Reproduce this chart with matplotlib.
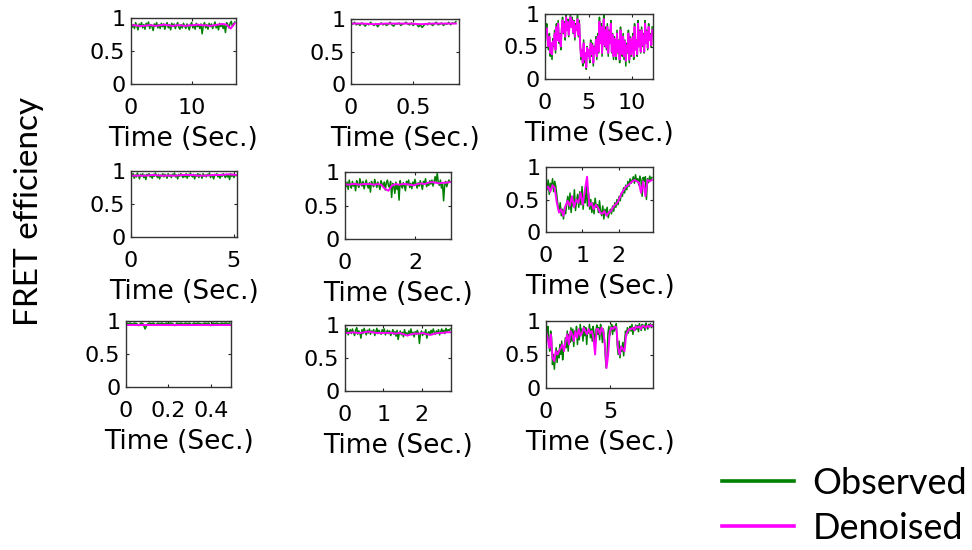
import numpy as np
import matplotlib
matplotlib.use("Agg")
import matplotlib.pyplot as plt
from matplotlib.lines import Line2D

# ---------------- data (values in percent FRET efficiency) ----------------
obs_00 = [92,86,90,84,93,88,82,91,87,93,85,90,83,92,88,94,84,90,87,81,91,88,93,85,90,84,92,87,91,83,
          89,93,85,90,82,92,87,91,84,89,93,86,83,90,85,92,88,84,91,87,82,90,93,85,89,83,92,87,90,84,
          91,76,89,93,85,90,83,92,87,91,84,89,94,85,90,82,92,87,91,84,89,78,93,90,85,92,95,87,91,94]
den_00 = [89,89,88,88,89,89,88,89,90,89,88,89,89,88,89,89,90,89,89,88,89,90,91,90,84,92]
dur_00 = 17.1

obs_01 = [94,92,95,91,93,90,94,92,89,93,91,95,92,90,93,88,92,94,91,93,90,92,95,91,89,93,92,94,90,92,
          93,95,92,91,94,90,93,92,88,91,87,90,93,91,94,92,90,93,95,91,92,94,90,93,92,95,91,94,93,96]
den_01 = [93,93,92,93,93,93,92,93,93,93]
dur_01 = 0.84

obs_02 = [80,72,85,60,45,70,35,55,30,62,
          50,75,40,85,60,90,55,70,45,80,
          95,70,88,60,98,75,92,65,85,100,
          80,95,70,90,60,85,75,98,65,90,
          55,30,45,20,60,25,40,15,50,35,
          45,25,60,35,55,20,50,40,65,30,
          70,40,95,55,85,35,75,100,50,80,
          45,85,35,75,55,90,40,70,30,65,
          50,30,75,40,60,25,80,45,35,70,
          30,60,20,55,40,75,25,65,35,50,
          70,30,85,45,60,35,90,50,75,40,
          80,50,70,40,90,55,75,45,85,60,70,50,80]
den_02 = [75,70,78,60,50,65,40,55,38,58,
          52,70,45,80,60,85,58,68,50,75,
          90,72,85,65,95,75,88,68,82,95,
          80,90,72,88,65,82,75,92,68,85,
          55,35,45,25,55,30,40,18,48,35,
          45,30,55,38,52,25,48,40,60,35,
          65,42,88,55,80,40,72,92,52,75,
          48,80,40,72,55,85,42,68,35,62,
          52,35,70,42,58,30,75,45,38,65,
          35,58,28,52,42,70,30,62,38,52,
          65,35,80,45,58,38,85,50,72,42,
          75,52,68,42,85,55,72,48,80,60,68,52,75]
dur_02 = 12.3

obs_10 = [95,92,96,89,94,91,97,93,88,95,92,96,90,94,87,95,93,96,91,94,89,95,92,97,93,90,95,88,94,92,
          96,91,95,93,89,96,92,94,90,95,93,97,91,94,88,95,92,96,93,90,94,91,96,89,95,92,97,93,91,95,
          88,94,92,96,90,95,93,89,96,92,94,91,95,93,97,90,94,92,88,95,93,96,91,94,89,95,92,96,93,90,
          95,91,94,87,96,92,95,90,94,93]
den_10 = [93,93,93,94,93,93,93,94,94,93,93,94,94,95,94]
dur_10 = 5.1

obs_11 = [82,78,85,74,88,80,76,86,79,83,72,87,81,77,90,84,79,86,75,82,88,80,76,84,70,86,81,78,89,83,
          77,85,80,74,87,82,79,85,73,84,88,80,77,86,62,83,79,68,85,74,81,58,87,80,76,84,79,72,86,81,
          88,77,83,75,85,80,89,82,76,84,79,87,81,74,86,83,90,78,84,80,87,82,88,79,85,93,86,98,84,80,
          88,76,83,57,80,86,78,84,88,85]
den_11 = [82,81,82,82,81,82,82,82,81,82,81,75,72,80,82,81,82,82,81,80,82,83,82,84,85,84,83,84,84,85]
dur_11 = 3.0

obs_12 = [72,65,80,58,75,68,82,62,78,70,
          55,40,30,45,25,35,20,38,28,45,
          55,35,60,30,50,40,65,33,48,58,
          38,62,42,70,35,55,45,72,40,60,
          35,50,30,45,28,52,38,42,30,48,
          32,25,40,20,35,28,38,22,30,35,
          28,40,32,45,38,50,42,55,48,60,
          55,68,60,72,65,78,70,82,75,80,
          85,75,88,78,82,72,86,80,55,84,
          78,85,50,82,76,86,80,84]
den_12 = [65,70,62,72,68, 45,30,35,25,40, 48,40,55,38,50, 45,60,42,65,85,
          40,45,35,42,38, 30,28,32,25,30, 32,38,42,45,52, 60,65,70,72,75,
          78,80,78,76,60, 78,55,80,78,80]
dur_12 = 2.92

obs_20 = [97,96,97,95,97,96,93,97,96,88,95,97,96,97,94,97,96,97,95,97,96,97,96,93,97,96,97,95,97,96,
          97,94,97,96,97,96,95,97,96,97,93,97,96,97,95,97,96,97,96,97]
den_20 = [94,94,94,94,94,94,94,94]
dur_20 = 0.49

obs_21 = [92,88,95,85,90,93,87,94,89,84,92,96,86,91,88,80,93,87,95,90,85,92,88,94,86,91,89,93,84,90,
          95,87,92,88,86,93,90,94,85,89,92,87,91,84,88,93,86,90,83,92,78,87,91,85,89,82,93,86,88,84,
          91,87,94,85,89,82,90,86,92,88,72,87,91,84,89,86,93,80,88,90,85,92,87,94,89,86,91,88,93,85,
          90,94,88,92,87,95,90,93,91,94]
den_21 = [88,88,89,88,88,89,90,89,88,88,88,88,88,87,88,86,84,86,87,87,88,86,85,87,88,88,89,89]
dur_21 = 2.75

obs_22 = [88,80,92,70,55,85,75, 35,50,28,45,60,38,55, 45,65,50,70,42,58,62, 75,60,85,55,80,68,90,
          70,88,62,85,78,92,65, 85,72,95,80,88,70,92, 78,90,65,86,82,95,75, 88,70,92,80,58,86,94,
          80,90,72,95,85,68,88, 75,50,30,45,82,92,78, 88,95,80,92,85,90,96, 65,50,70,45,62,55,68,
          48,70,85,78,90,82,88, 92,85,95,80,90,86,94, 88,93,84,96,90,86,95,
          90,94,86,97,91,88,95,92,96,90,94]
den_22 = [85,75,60,80, 45,40,55,50, 55,60,65,55, 70,80,65,85, 80,70,85,75, 88,78,82,90,
          85,80,88,82, 85,75,50,88, 88,80,90,85, 65,30,50,85, 90,88,92,90, 60,50,62,58,
          55,80,85,88, 88,90,86,92, 90,92,88,93, 92,90,93,91,94,92]
dur_22 = 8.25

xmax = [17.3, 0.865, 12.4, 5.15, 3.03, 2.95, 0.495, 2.77, 8.3]
xticks = [[0, 10], [0, 0.5], [0, 5, 10], [0, 5], [0, 2], [0, 1, 2], [0, 0.2, 0.4], [0, 1, 2], [0, 5]]
xticklabels = [['0', '10'], ['0', '0.5'], ['0', '5', '10'], ['0', '5'], ['0', '2'],
               ['0', '1', '2'], ['0', '0.2', '0.4'], ['0', '1', '2'], ['0', '5']]
yticks = [0, 0.5, 1]
yticklabels = ['0', '0.5', '1']
legend_labels = ['Observed', 'Denoised']

observed = [obs_00, obs_01, obs_02, obs_10, obs_11, obs_12, obs_20, obs_21, obs_22]
denoised = [den_00, den_01, den_02, den_10, den_11, den_12, den_20, den_21, den_22]
durations = [dur_00, dur_01, dur_02, dur_10, dur_11, dur_12, dur_20, dur_21, dur_22]

# ---------------- layout (pixel boxes: x0, x1, y0, y1) ----------------
W, H = 972, 550
boxes = [(131, 236, 18, 84), (351, 459, 19, 84), (545, 653, 14, 79),
         (131, 237, 171, 237), (345, 451, 172, 239), (546, 653, 167, 232),
         (126, 231, 321, 387), (345, 451, 325, 391), (546, 653, 321, 388)]

GREEN = '#008000'
MAGENTA = '#ff00ff'

fig = plt.figure(figsize=(W / 100, H / 100), dpi=100)

for i, (x0, x1, y0, y1) in enumerate(boxes):
    ax = fig.add_axes([x0 / W, 1 - y1 / H, (x1 - x0) / W, (y1 - y0) / H])
    ob = np.array(observed[i]) / 100.0
    de = np.array(denoised[i]) / 100.0
    ax.plot(np.linspace(0, durations[i], len(ob)), ob, color=GREEN, lw=1.1)
    ax.plot(np.linspace(0, durations[i], len(de)), de, color=MAGENTA, lw=1.4)
    ax.set_xlim(0, xmax[i])
    ax.set_ylim(0, 1)
    ax.set_xticks(xticks[i])
    ax.set_xticklabels(xticklabels[i])
    ax.set_yticks(yticks)
    ax.set_yticklabels(yticklabels)
    ax.tick_params(direction='in', length=2, width=0.8, top=True, right=True,
                   labelsize=16, colors='#222222')
    ax.tick_params(axis='x', pad=10, labelcolor='black')
    ax.tick_params(axis='y', pad=4, labelcolor='black')
    for sp in ax.spines.values():
        sp.set_color('#333333')
        sp.set_linewidth(1.0)
    ax.set_xlabel('Time (Sec.)', fontsize=19, labelpad=6)

fig.text(29 / W, 1 - 211 / H, 'FRET efficiency', rotation=90, fontsize=24,
         family='Lato', ha='center', va='center')

handles = [Line2D([], [], color=GREEN, lw=2.6), Line2D([], [], color=MAGENTA, lw=2.6)]
fig.legend(handles=handles, labels=legend_labels, loc='center left',
           bbox_to_anchor=(722 / W, 1 - 506 / H), frameon=False,
           prop={'family': 'Lato', 'size': 26}, handlelength=2.0,
           handletextpad=0.5, labelspacing=0.33, borderpad=0, borderaxespad=0)

fig.savefig('out.png', dpi=100)
